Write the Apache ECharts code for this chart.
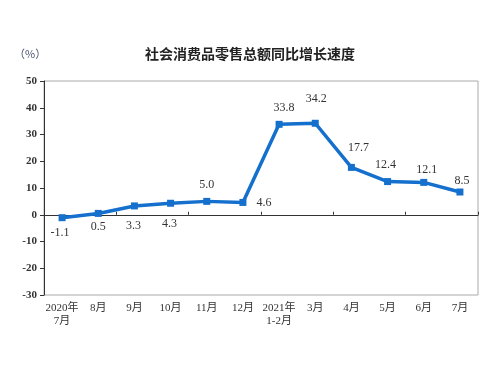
<!DOCTYPE html>
<html>
<head>
<meta charset="utf-8">
<script src="https://cdn.jsdelivr.net/npm/echarts@6/dist/echarts.min.js"></script>
<style>html,body{margin:0;padding:0;background:#fff;}#c{width:500px;height:375px;}</style>
</head>
<body>
<div id="c"></div>
<script>
const categories = ['2020年\n7月','8月','9月','10月','11月','12月','2021年\n1-2月','3月','4月','5月','6月','7月'];
const growth = [-1.1, 0.5, 3.3, 4.3, 5.0, 4.6, 33.8, 34.2, 17.7, 12.4, 12.1, 8.5];
const yTicks = [-30, -20, -10, 0, 10, 20, 30, 40, 50];
const titleText = '社会消费品零售总额同比增长速度';
const unitText = '（%）';

const labelStyle = [
  {position:'bottom', offset:[-2,0]},
  {position:'bottom', offset:[0,-2]},
  {position:'bottom', offset:[-1,4]},
  {position:'bottom', offset:[-1,5]},
  {position:'top', offset:[0,-1]},
  {position:'right', offset:[4,0]},
  {position:'top', offset:[5,-1]},
  {position:'top', offset:[1,-9]},
  {position:'top', offset:[7,-4]},
  {position:'top', offset:[-2,-1]},
  {position:'top', offset:[3,3]},
  {position:'top', offset:[2,4]}
];

const chart = echarts.init(document.getElementById('c'), null, {renderer:'canvas'});
const serif = '"Liberation Serif","DejaVu Serif","Noto Sans CJK SC",serif';
chart.setOption({
  animation:false,
  backgroundColor:'#fff',
  title:{text:titleText,left:'center',top:42,textStyle:{fontSize:14,fontWeight:'bold',color:'#222',fontFamily:'"Noto Sans CJK SC",sans-serif'}},
  graphic:[{type:'text',left:14,top:48,style:{text:unitText,fontSize:11,fill:'#4a5570',fontFamily:'"Noto Sans CJK SC",sans-serif'}}],
  grid:{left:44,right:22,top:81,bottom:80,show:true,borderColor:'#aaa',borderWidth:1,backgroundColor:'transparent'},
  xAxis:[
    {type:'category',data:categories,boundaryGap:true,
     axisLine:{onZero:true,lineStyle:{color:'#333',width:1}},
     axisTick:{show:true,inside:true,length:3,lineStyle:{color:'#333'}},
     axisLabel:{show:false},splitLine:{show:false}},
    {type:'category',data:categories,position:'bottom',boundaryGap:true,
     axisLine:{show:false,onZero:false},axisTick:{show:false},
     axisLabel:{show:true,interval:0,margin:7,fontSize:11,lineHeight:13,color:'#333',fontFamily:serif},
     splitLine:{show:false}}
  ],
  yAxis:{type:'value',min:yTicks[0],max:yTicks[yTicks.length-1],interval:10,
    axisLine:{show:true,lineStyle:{color:'#333'}},
    axisTick:{show:true,inside:false,length:4,lineStyle:{color:'#333'}},
    axisLabel:{fontSize:11,fontWeight:'bold',color:'#333',margin:7,fontFamily:serif},
    splitLine:{show:false}},
  series:[{
    type:'line',xAxisIndex:0,
    data:growth.map((v,i)=>({value:v,label:{position:labelStyle[i].position,offset:labelStyle[i].offset}})),
    symbol:'rect',symbolSize:7,
    lineStyle:{color:'#1470cc',width:3.5},
    itemStyle:{color:'#1470cc'},
    label:{show:true,fontSize:12,color:'#333',distance:6,fontFamily:serif,formatter:p=>p.value.toFixed(1)}
  }]
});
</script>
</body>
</html>
